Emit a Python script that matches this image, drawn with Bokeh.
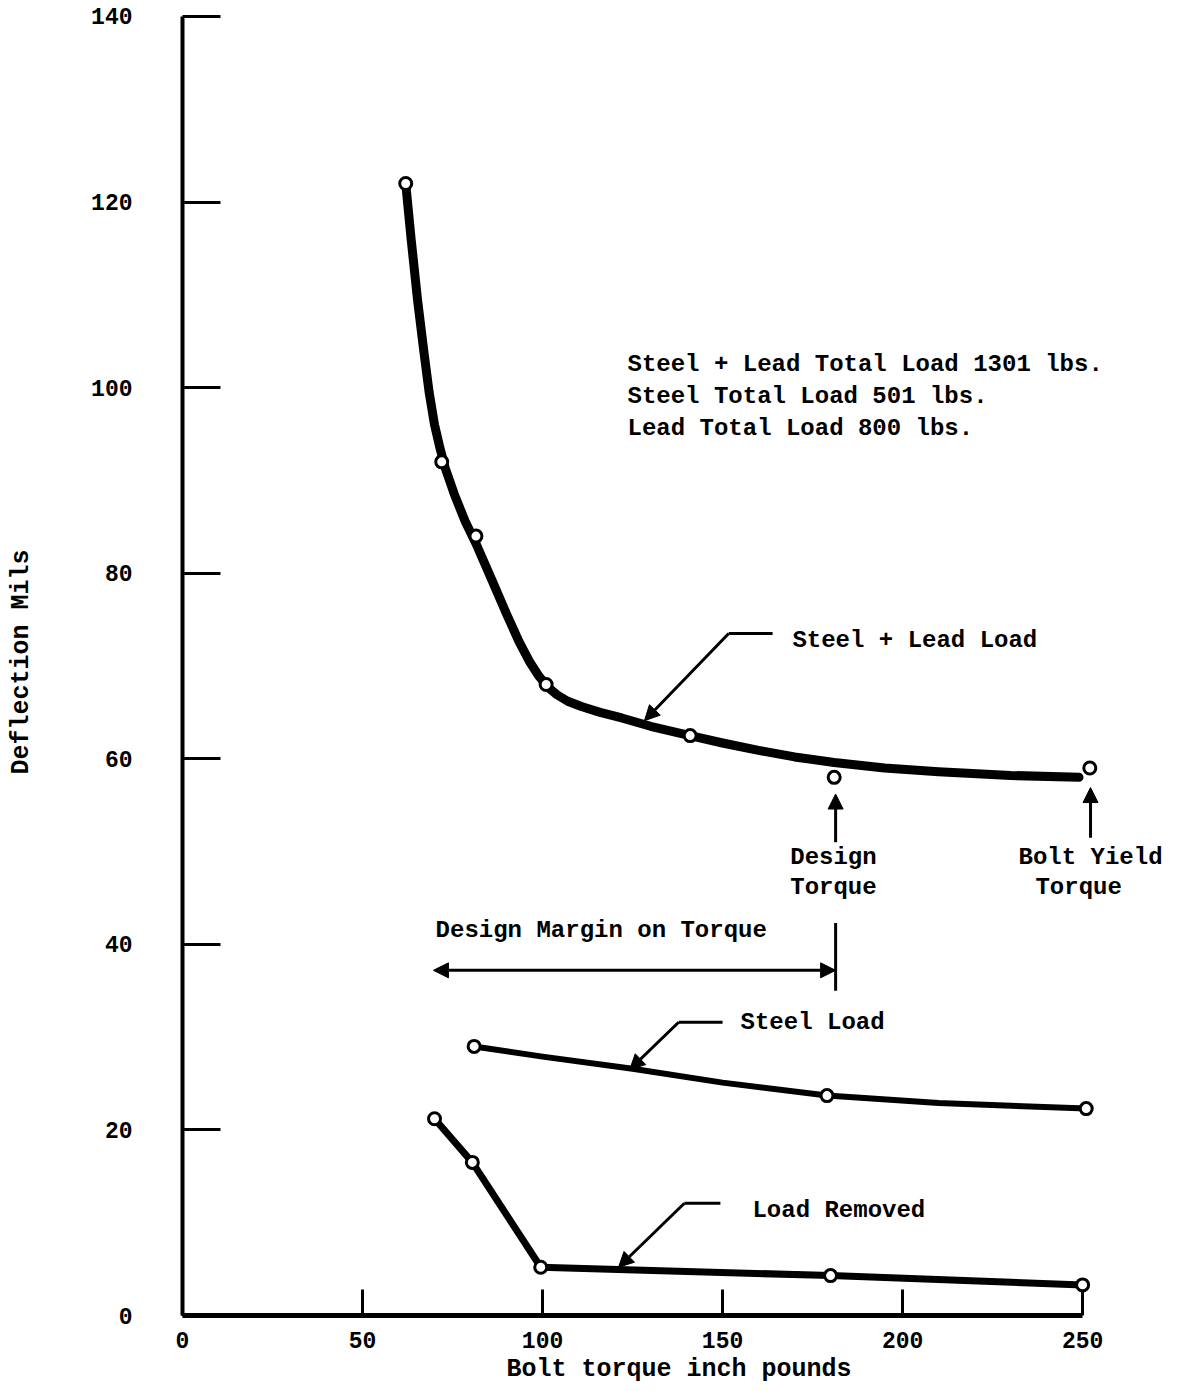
from bokeh.plotting import figure
from bokeh.models import Range1d, Arrow, NormalHead, Label, FixedTicker
from bokeh.embed import file_html
from bokeh.resources import INLINE

# ---- data ----
sl_x = [62, 72, 81.5, 101, 141]                # Steel + Lead load measured points
sl_y = [122, 92, 84, 68, 62.5]
sl_fit_x = [62, 63.5, 65.3, 67, 68.5, 70, 71.5, 73, 75.5, 78.5, 81.5, 86, 90, 93.5, 96.5, 99,
            101.5, 104, 107, 111, 116, 122, 130, 141, 150, 160, 170, 181, 195, 210, 230, 249]
sl_fit_y = [122, 116, 109.4, 104, 99.5, 96, 93.5, 91.3, 88.5, 85.6, 83.2, 79.2, 75.6, 72.6, 70.4, 68.9,
            67.7, 66.9, 66.2, 65.6, 65.0, 64.4, 63.5, 62.5, 61.7, 60.9, 60.2, 59.6, 59.0, 58.6, 58.2, 58.0]
design_pt_x = [181]
design_pt_y = [58]
yield_pt_x = [252]
yield_pt_y = [59]

st_x = [81, 179, 251]                          # Steel load
st_y = [29, 23.7, 22.3]
st_fit_x = [81, 100, 125, 150, 179, 210, 251]
st_fit_y = [29, 27.9, 26.6, 25.1, 23.7, 22.9, 22.3]

lr_x = [70, 80.5, 99.5, 180, 250]              # Load removed
lr_y = [21.2, 16.5, 5.2, 4.3, 3.3]

x_ticks = [0, 50, 100, 150, 200, 250]
y_ticks = [0, 20, 40, 60, 80, 100, 120, 140]

FONT = "Liberation Mono"

p = figure(width=1175, height=1391, output_backend="svg", toolbar_location=None,
           x_range=Range1d(0, 275.8), y_range=Range1d(0, 140.86),
           min_border_left=182, min_border_right=0, min_border_top=8, min_border_bottom=76)
p.grid.visible = False
p.outline_line_color = None

# axes
p.xaxis.bounds = (0, 250)
p.yaxis.bounds = (0, 140)
p.xaxis.ticker = FixedTicker(ticks=x_ticks)
p.yaxis.ticker = FixedTicker(ticks=y_ticks)
p.xaxis.minor_tick_line_color = None
p.yaxis.minor_tick_line_color = None
p.xaxis.axis_line_width = 5
p.yaxis.axis_line_width = 4
p.xaxis.major_tick_in = 26
p.xaxis.major_tick_out = 0
p.yaxis.major_tick_in = 38
p.yaxis.major_tick_out = 0
p.xaxis.major_tick_line_width = 3
p.yaxis.major_tick_line_width = 3
for ax in (p.xaxis, p.yaxis):
    ax.major_label_text_font = FONT
    ax.major_label_text_font_size = "23px"
    ax.major_label_text_font_style = "bold"
    ax.major_label_text_color = "black"
    ax.axis_label_text_font = FONT
    ax.axis_label_text_font_size = "25px"
    ax.axis_label_text_font_style = "bold"
    ax.axis_label_text_color = "black"
    ax.axis_line_color = "black"
    ax.major_tick_line_color = "black"
p.xaxis.major_label_standoff = 16
p.yaxis.major_label_standoff = 50
p.xaxis.axis_label = "Bolt torque inch pounds"
p.yaxis.axis_label = "Deflection Mils"
p.xaxis.axis_label_standoff = 4
p.yaxis.axis_label_standoff = 52

# curves
p.line(sl_fit_x, sl_fit_y, line_width=9, color="black", line_cap="round", line_join="round")
p.line(st_fit_x, st_fit_y, line_width=6, color="black", line_cap="round", line_join="round")
p.line(lr_x, lr_y, line_width=7, color="black", line_cap="round", line_join="round")

mk = dict(marker="circle", size=12, fill_color="white", line_color="black", line_width=3)
p.scatter(sl_x, sl_y, **mk)
p.scatter(design_pt_x, design_pt_y, **mk)
p.scatter(yield_pt_x, yield_pt_y, **mk)
p.scatter(st_x, st_y, **mk)
p.scatter(lr_x, lr_y, **mk)


def head():
    return NormalHead(size=15, fill_color="black", line_color="black", line_width=1)


def leader(x0, x1, y, tx, ty):
    p.line([x0, x1], [y, y], line_width=3, color="black")
    p.add_layout(Arrow(x_start=x0, y_start=y, x_end=tx, y_end=ty, end=head(),
                       line_width=3, line_color="black"))


def label(x, y, text, align="left"):
    p.add_layout(Label(x=x, y=y, text=text, text_font=FONT, text_font_size="24px",
                       text_font_style="bold",
                       text_color="black", text_align=align, text_baseline="middle"))


# notes
label(123.6, 102.5, "Steel + Lead Total Load 1301 lbs.")
label(123.6, 99.0, "Steel Total Load 501 lbs.")
label(123.6, 95.6, "Lead Total Load 800 lbs.")

# series leaders
leader(151.7, 163.9, 73.5, 128.3, 64.1)
label(169.4, 72.7, "Steel + Lead Load")
leader(137.8, 150.0, 31.6, 124.2, 26.5)
label(155.0, 31.6, "Steel Load")
leader(139.4, 149.4, 12.1, 121.1, 5.2)
label(158.3, 11.3, "Load Removed")

# design / yield torque arrows
p.add_layout(Arrow(x_start=181.4, y_start=51.0, x_end=181.4, y_end=56.2, end=head(),
                   line_width=3, line_color="black"))
p.add_layout(Arrow(x_start=252.2, y_start=51.5, x_end=252.2, y_end=56.9, end=head(),
                   line_width=3, line_color="black"))
label(180.8, 49.4, "Design", "center")
label(180.8, 46.1, "Torque", "center")
label(252.2, 49.4, "Bolt Yield", "center")
label(248.9, 46.1, "Torque", "center")

# design margin
p.add_layout(Arrow(x_start=69.7, y_start=37.2, x_end=181.4, y_end=37.2,
                   start=head(), end=head(), line_width=3, line_color="black"))
p.line([181.4, 181.4], [35.0, 42.3], line_width=3, color="black")
label(70.3, 41.5, "Design Margin on Torque")

open("out.html", "w").write(file_html(p, INLINE))
